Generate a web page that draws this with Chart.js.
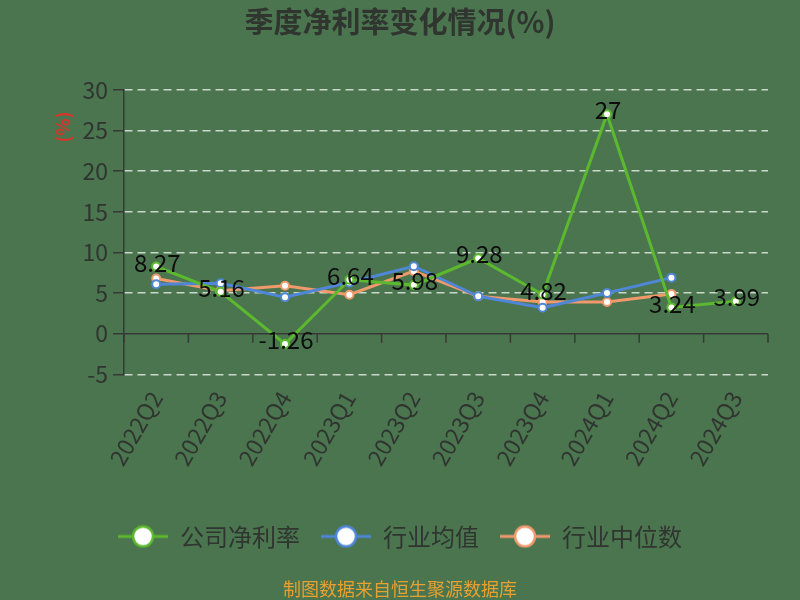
<!DOCTYPE html>
<html>
<head>
<meta charset="utf-8">
<script src="https://cdn.jsdelivr.net/npm/chart.js@4"></script>
<style>
  html, body { margin: 0; padding: 0; background: #4a754f; }
  #wrap { width: 800px; height: 600px; }
</style>
</head>
<body>
<div id="wrap"><canvas id="myChart" width="800" height="600"></canvas></div>
<script>
var quarters = ['2022Q2', '2022Q3', '2022Q4', '2023Q1', '2023Q2', '2023Q3', '2023Q4', '2024Q1', '2024Q2', '2024Q3'];
var companyValues = [8.27, 5.16, -1.26, 6.64, 5.98, 9.28, 4.82, 27, 3.24, 3.99];
var avgValues = [6.1, 6.2, 4.5, 6.3, 8.3, 4.6, 3.2, 5.0, 6.9, null];
var medianValues = [6.8, 5.3, 5.9, 4.8, 7.7, 4.6, 3.9, 3.9, 4.9, null];
var yTicks = [-5, 0, 5, 10, 15, 20, 25, 30];

var green = '#5cb82f';
var blue = '#4f86d6';
var orange = '#f09a6c';
var textColor = '#303530';

Chart.defaults.font.family = "'Noto Sans CJK SC', 'Noto Sans', sans-serif";

// legend marker: short line with a hollow circle
function legendMark(color) {
    var c = document.createElement('canvas');
    c.width = 50;
    c.height = 26;
    var g = c.getContext('2d');
    g.strokeStyle = color;
    g.lineWidth = 3;
    g.beginPath();
    g.moveTo(0, 13);
    g.lineTo(50, 13);
    g.stroke();
    g.beginPath();
    g.arc(25, 13, 10, 0, Math.PI * 2);
    g.fillStyle = '#ffffff';
    g.fill();
    g.lineWidth = 2.5;
    g.stroke();
    return c;
}
var marks = [legendMark(green), legendMark(blue), legendMark(orange)];

var extras = {
    id: 'extras',
    beforeDatasetsDraw: function (chart) {
        var ctx = chart.ctx;
        var x = chart.scales.x;
        var y = chart.scales.y;
        var y0 = y.getPixelForValue(0);
        ctx.save();
        ctx.strokeStyle = '#363a36';
        ctx.lineWidth = 1.5;
        ctx.beginPath();
        ctx.moveTo(x.left, y0);
        ctx.lineTo(x.right, y0);
        var step = (x.right - x.left) / quarters.length;
        for (var i = 0; i <= quarters.length; i++) {
            var px = x.left + i * step;
            ctx.moveTo(px, y0);
            ctx.lineTo(px, y0 + 9);
        }
        ctx.stroke();
        ctx.restore();
    },
    afterDatasetsDraw: function (chart) {
        var ctx = chart.ctx;
        var meta = chart.getDatasetMeta(0);
        ctx.save();
        ctx.font = "24px 'Noto Sans CJK SC', sans-serif";
        ctx.fillStyle = '#0d0d0d';
        ctx.textAlign = 'center';
        ctx.textBaseline = 'middle';
        meta.data.forEach(function (pt, i) {
            ctx.fillText(String(companyValues[i]), pt.x + 1, pt.y - 4);
        });
        // axis unit
        ctx.translate(63, 127);
        ctx.rotate(-Math.PI / 2);
        ctx.font = "bold 18px 'Noto Sans CJK SC', sans-serif";
        ctx.fillStyle = '#d8342a';
        ctx.fillText('(%)', 0, 0);
        ctx.restore();
    }
};

new Chart('myChart', {
    type: 'line',
    data: {
        labels: quarters,
        datasets: [{
            label: '公司净利率',
            data: companyValues,
            borderColor: green,
            backgroundColor: '#ffffff',
            borderWidth: 3,
            pointRadius: 4,
            pointBorderWidth: 2,
            pointBorderColor: green,
            pointBackgroundColor: '#ffffff'
        }, {
            label: '行业均值',
            data: avgValues,
            borderColor: blue,
            backgroundColor: '#ffffff',
            borderWidth: 3,
            pointRadius: 4,
            pointBorderWidth: 2,
            pointBorderColor: blue,
            pointBackgroundColor: '#ffffff'
        }, {
            label: '行业中位数',
            data: medianValues,
            borderColor: orange,
            backgroundColor: '#ffffff',
            borderWidth: 3,
            pointRadius: 4,
            pointBorderWidth: 2,
            pointBorderColor: orange,
            pointBackgroundColor: '#ffffff'
        }]
    },
    options: {
        responsive: false,
        animation: false,
        layout: { padding: 0 },
        plugins: {
            title: {
                display: true,
                text: '季度净利率变化情况(%)',
                color: textColor,
                font: { size: 29, weight: 'bold' },
                padding: { top: 5, bottom: 50 }
            },
            subtitle: {
                display: true,
                position: 'bottom',
                text: '制图数据来自恒生聚源数据库',
                color: '#e8a030',
                font: { size: 18 },
                padding: { top: 20, bottom: 0 }
            },
            legend: {
                position: 'bottom',
                labels: {
                    usePointStyle: true,
                    pointStyleWidth: 50,
                    padding: 21,
                    color: textColor,
                    font: { size: 24 },
                    generateLabels: function (chart) {
                        var items = Chart.defaults.plugins.legend.labels.generateLabels(chart);
                        items.forEach(function (it, i) { it.pointStyle = marks[i]; });
                        return items;
                    }
                }
            },
            tooltip: { enabled: false }
        },
        scales: {
            x: {
                offset: true,
                grid: { display: false },
                border: { display: false },
                ticks: {
                    color: textColor,
                    font: { size: 23 },
                    minRotation: 60,
                    maxRotation: 60,
                    padding: 4
                },
                afterFit: function (scale) { scale.height = 129; }
            },
            y: {
                min: -5,
                max: 30,
                afterBuildTicks: function (scale) {
                    scale.ticks = yTicks.map(function (v) { return { value: v }; });
                },
                grid: {
                    color: function (c) { return c.tick && c.tick.value === 0 ? 'rgba(0,0,0,0)' : 'rgba(225,235,225,0.85)'; },
                    lineWidth: 1.5,
                    tickColor: '#363a36',
                    tickLength: 11
                },
                border: { display: true, color: '#363a36', width: 1.5, dash: [8, 5] },
                ticks: {
                    color: textColor,
                    font: { size: 23 },
                    padding: 5
                },
                afterFit: function (scale) { scale.width = 124; }
            },
            // empty right axis, only keeps space on the right side
            yRight: {
                position: 'right',
                min: -5,
                max: 30,
                grid: { display: false },
                border: { display: false },
                ticks: { display: false },
                afterFit: function (scale) { scale.width = 32; }
            }
        }
    },
    plugins: [extras]
});
</script>
</body>
</html>
